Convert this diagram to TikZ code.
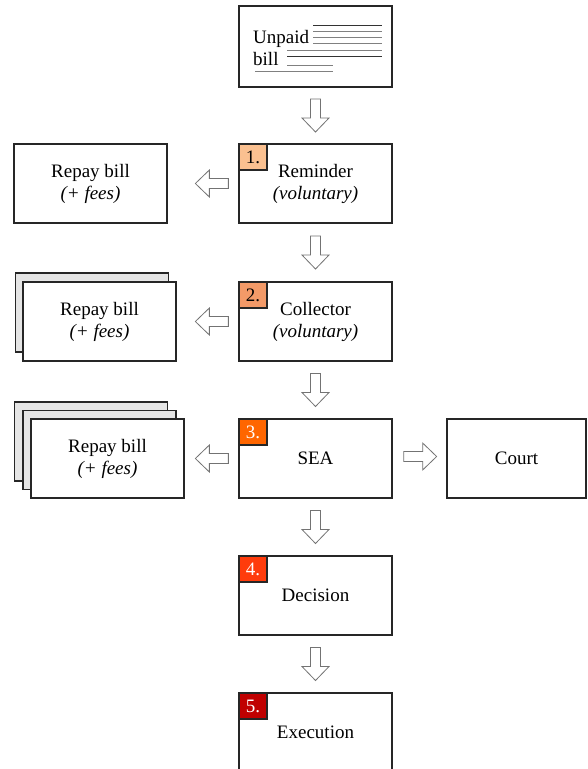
\documentclass[tikz,border=0pt]{standalone}
\usepackage{fontspec}
\setmainfont{Liberation Serif}
\usetikzlibrary{calc}
\definecolor{bA}{HTML}{FAC090}
\definecolor{bB}{HTML}{F39A68}
\definecolor{bC}{HTML}{FF6600}
\definecolor{bD}{HTML}{FF3C0C}
\definecolor{bE}{HTML}{C00000}
\begin{document}
\begin{tikzpicture}[x=1pt,y=-1pt,
  txt/.style={font=\fontsize{19}{22}\selectfont},
  box/.style={txt,draw=black!85,line width=1.3pt,fill=white,minimum width=153pt,minimum height=79pt,inner sep=0pt,align=center},
  shadowbox/.style={draw=black!85,line width=1.3pt,fill=black!10,minimum width=153pt,minimum height=79pt,inner sep=0pt},
  badge/.style={txt,draw=black!85,line width=1.3pt,minimum width=28pt,minimum height=26pt,inner sep=0pt,anchor=north west},
  arr/.style={draw=black!55,line width=0.8pt,fill=white,line join=miter},
  billline/.style={line width=0.8pt,draw=black!50},
  blockarrow/.pic={\path[arr] (-16.5,-5) -- (2.5,-5) -- (2.5,-13.5) -- (16.5,0) -- (2.5,13.5) -- (2.5,5) -- (-16.5,5) -- cycle;}
]
\clip (0,0) rectangle (587,769);
\fill[white] (0,0) rectangle (587,769);

% main column
\node[box,minimum height=81pt] (unpaid) at (315.5,46.5) {};
\node[txt,anchor=base west,inner sep=0pt] (tunpaid) at (253,43) {Unpaid};
\node[txt,anchor=base west,inner sep=0pt] (tbill) at (253,65) {bill};
\draw[billline,draw=black!80] (313,25) -- (382,25);
\draw[billline] (313,31) -- (382,31);
\draw[billline] (313,37) -- (382,37);
\draw[billline] (313,43) -- (382,43);
\draw[billline] (287,50) -- (382,50);
\draw[billline,draw=black!80] (287,56) -- (382,56);
\draw[billline] (287,65) -- (333,65);
\draw[billline] (255,71) -- (333,71);

\node[box] (rem) at (315.5,183.5) {Reminder\\\textit{(voluntary)}};
\node[box] (col) at (315.5,321.5) {Collector\\\textit{(voluntary)}};
\node[box] (sea) at (315.5,458.5) {SEA};
\node[box] (dec) at (315.5,595.5) {Decision};
\node[box] (exe) at (315.5,732.5) {Execution};
\node[box,minimum width=139pt] (court) at (516.5,458.5) {Court};

% badges
\node[badge,fill=bA] (b1) at (rem.north west) {1.};
\node[badge,fill=bB] (b2) at (col.north west) {2.};
\node[badge,fill=bC,text=white] (b3) at (sea.north west) {3.};
\node[badge,fill=bD,text=white] (b4) at (dec.north west) {4.};
\node[badge,fill=bE,text=white] (b5) at (exe.north west) {5.};

% repay boxes
\node[box] (rep1) at (90.5,183.5) {Repay bill\\\textit{(+ fees)}};

\node[shadowbox] (rep2b) at (92,312.5) {};
\node[box] (rep2) at (99.5,321.5) {Repay bill\\\textit{(+ fees)}};

\node[shadowbox] (rep3c) at (91,441.5) {};
\node[shadowbox] (rep3b) at (99.5,450) {};
\node[box] (rep3) at (107.5,458.5) {Repay bill\\\textit{(+ fees)}};

% block arrows
\pic[rotate=-90] at ($(unpaid.south)!0.5!(rem.north)$) {blockarrow};
\pic[rotate=-90] at ($(rem.south)!0.5!(col.north)$) {blockarrow};
\pic[rotate=-90] at ($(col.south)!0.5!(sea.north)$) {blockarrow};
\pic[rotate=-90] at ($(sea.south)!0.5!(dec.north)$) {blockarrow};
\pic[rotate=-90] at ($(dec.south)!0.5!(exe.north)$) {blockarrow};
\pic[rotate=180] at ($(rem.west)+(-26.5,0)$) {blockarrow};
\pic[rotate=180] at ($(col.west)+(-26.5,0)$) {blockarrow};
\pic[rotate=180] at ($(sea.west)+(-26.5,0)$) {blockarrow};
\pic at ($(sea.east)+(27.5,-2)$) {blockarrow};
\end{tikzpicture}
\end{document}
